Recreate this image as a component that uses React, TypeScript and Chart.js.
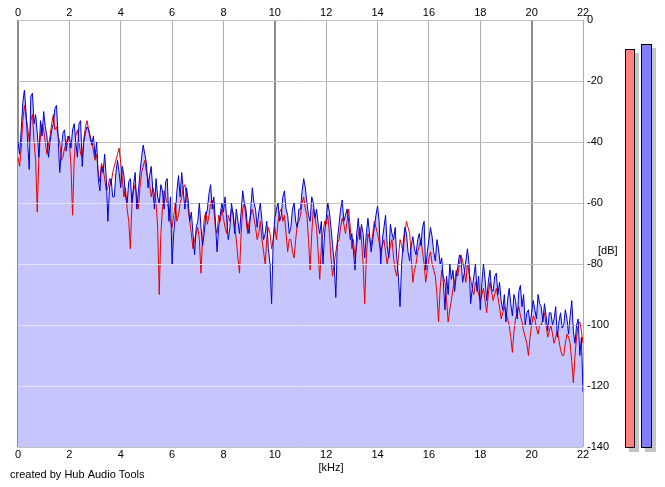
import { useEffect, useRef } from "react";
import { Chart, registerables } from "chart.js";

Chart.register(...registerables);

// ---- data ----
const FREQ_TICKS_KHZ = [0, 2, 4, 6, 8, 10, 12, 14, 16, 18, 20, 22];
const DB_TICKS = [0, -20, -40, -60, -80, -100, -120, -140];
const FREQ_STEP_KHZ = 0.0625;

// one row = 1 kHz (16 bins), left channel (blue)
const BLUE_DB = [
  -40, -44, -36, -27, -23, -30, -40, -49, -25, -24, -34, -31, -37, -45, -33, -38,
  -30, -35, -38, -45, -40, -36, -34, -29, -28, -38, -50, -43, -37, -36, -43, -39,
  -38, -42, -36, -34, -40, -45, -34, -33, -48, -40, -37, -35, -36, -39, -41, -38,
  -45, -40, -52, -56, -48, -50, -44, -52, -66, -55, -52, -58, -58, -50, -46, -50,
  -55, -48, -51, -58, -60, -53, -52, -60, -54, -50, -62, -56, -50, -45, -41, -44,
  -47, -55, -51, -48, -56, -62, -52, -58, -60, -54, -56, -62, -53, -52, -66, -58,
  -80, -70, -64, -56, -51, -58, -50, -56, -62, -55, -59, -66, -63, -70, -77, -68,
  -66, -60, -68, -74, -70, -64, -62, -57, -54, -62, -58, -66, -76, -68, -64, -60,
  -63, -58, -65, -72, -68, -60, -64, -70, -62, -66, -70, -63, -56, -60, -62, -68,
  -70, -62, -55, -60, -62, -68, -63, -60, -66, -72, -70, -66, -75, -80, -93, -72,
  -65, -62, -60, -66, -64, -58, -56, -62, -64, -70, -68, -62, -60, -66, -68, -62,
  -62, -56, -52, -55, -60, -64, -66, -58, -60, -65, -62, -67, -70, -66, -80, -70,
  -65, -60, -63, -68, -74, -80, -91, -72, -67, -62, -59, -66, -64, -62, -66, -72,
  -70, -76, -82, -70, -65, -72, -67, -70, -78, -70, -65, -70, -76, -72, -68, -64,
  -61, -66, -80, -72, -68, -64, -74, -78, -67, -70, -72, -68, -78, -84, -94, -80,
  -73, -68, -70, -76, -79, -74, -71, -75, -77, -72, -70, -74, -68, -66, -82, -76,
  -72, -68, -71, -76, -79, -72, -75, -80, -78, -86, -95, -84, -90, -80, -85, -82,
  -89, -84, -81, -77, -78, -86, -83, -79, -75, -80, -93, -88, -84, -80, -89, -84,
  -95, -86, -80, -85, -92, -86, -82, -88, -89, -84, -83, -90, -86, -92, -95, -90,
  -99, -92, -88, -93, -97, -90, -92, -98, -89, -87, -94, -90, -100, -96, -95, -100,
  -96, -92, -95, -98, -90, -93, -94, -99, -93, -97, -102, -96, -96, -100, -98, -94,
  -104, -99, -96, -101, -100, -95, -98, -103, -97, -92, -102, -106, -100, -98, -110, -104,
  -122,
];

// right channel (red)
const RED_DB = [
  -45, -48, -42, -33, -28, -32, -35, -40, -33, -31, -40, -46, -63, -45, -38, -34,
  -36, -40, -44, -41, -38, -34, -31, -36, -35, -38, -40, -46, -45, -42, -41, -38,
  -40, -48, -64, -46, -38, -36, -40, -44, -45, -39, -35, -33, -36, -38, -40, -43,
  -46, -44, -50, -53, -47, -49, -52, -56, -55, -52, -54, -50, -48, -46, -44, -42,
  -47, -52, -58, -55, -62, -66, -75, -60, -56, -54, -58, -62, -55, -50, -48, -46,
  -50, -52, -54, -58, -55, -57, -60, -68, -90, -70, -62, -56, -58, -60, -62, -66,
  -68, -64, -60, -66, -64, -60, -58, -55, -54, -58, -62, -66, -70, -75, -72, -70,
  -68, -72, -83, -72, -65, -63, -67, -64, -60, -59, -62, -68, -70, -64, -66, -62,
  -65, -68, -70, -64, -66, -62, -63, -68, -72, -78, -83, -70, -62, -60, -65, -70,
  -66, -64, -62, -65, -68, -72, -70, -66, -72, -76, -80, -72, -68, -70, -75, -72,
  -68, -72, -66, -63, -62, -66, -64, -70, -76, -72, -72, -76, -78, -72, -67, -66,
  -64, -60, -58, -62, -64, -72, -82, -70, -62, -65, -68, -76, -85, -74, -70, -66,
  -67, -64, -70, -78, -84, -80, -76, -73, -72, -68, -65, -67, -70, -66, -62, -68,
  -75, -72, -78, -74, -70, -68, -72, -80, -93, -78, -70, -72, -74, -70, -66, -68,
  -70, -73, -76, -74, -72, -76, -80, -77, -74, -72, -78, -82, -84, -78, -72, -74,
  -76, -70, -66, -68, -70, -78, -86, -82, -80, -76, -74, -72, -76, -80, -86, -82,
  -78, -76, -80, -82, -84, -90, -99, -88, -82, -84, -86, -92, -99, -95, -92, -88,
  -86, -82, -84, -80, -77, -79, -82, -86, -80, -83, -85, -88, -90, -86, -88, -90,
  -92, -90, -88, -92, -96, -90, -86, -89, -92, -90, -88, -91, -94, -98, -96, -94,
  -96, -98, -100, -104, -109, -102, -98, -96, -94, -97, -99, -102, -104, -106, -110, -104,
  -100, -97, -98, -101, -103, -100, -100, -98, -96, -100, -104, -102, -100, -103, -106, -104,
  -102, -105, -108, -110, -110, -106, -103, -104, -106, -112, -119, -110, -104, -100, -99, -102,
  -106,
];

const LEVEL_RED_DB = -9.5;
const LEVEL_BLUE_DB = -7.9;

const X_TITLE = "[kHz]";
const Y_TITLE = "[dB]";
const CREDIT = "created by Hub Audio Tools";

// ---- styles ----
const FONT_FAMILY = '"Liberation Sans", Arial, sans-serif';
const FILL_COLOR = "#c6c6fc";
const BLUE_COLOR = "#0000d0";
const RED_COLOR = "#e80000";

const toPoints = (arr: number[]) => arr.map((v, i) => ({ x: i * FREQ_STEP_KHZ, y: v }));

const overlayPlugin = {
  id: "overlay",
  afterDatasetsDraw(chart: any) {
    const { ctx, chartArea: a, scales } = chart;
    const pts = chart.getDatasetMeta(0).data;
    if (!pts.length) return;
    ctx.save();
    ctx.beginPath();
    ctx.moveTo(pts[0].x, a.bottom);
    for (const p of pts) ctx.lineTo(p.x, p.y);
    ctx.lineTo(pts[pts.length - 1].x, a.bottom);
    ctx.closePath();
    ctx.clip();
    ctx.strokeStyle = "#e2e2ff";
    ctx.lineWidth = 1;
    for (const v of DB_TICKS) {
      const y = Math.round(scales.y.getPixelForValue(v)) + 0.5;
      ctx.beginPath();
      ctx.moveTo(a.left, y);
      ctx.lineTo(a.right, y);
      ctx.stroke();
    }
    ctx.restore();
  },
  afterDraw(chart: any) {
    const { ctx, scales } = chart;
    const yBottom = scales.y.getPixelForValue(DB_TICKS[DB_TICKS.length - 1]);
    const drawBar = (x: number, w: number, level: number, color: string) => {
      const yTop = Math.round(scales.y.getPixelForValue(level));
      const h = yBottom - yTop;
      ctx.fillStyle = "#c4c4c4";
      ctx.fillRect(x + 4, yTop + 4, w + 1, h + 1);
      ctx.fillStyle = color;
      ctx.fillRect(x, yTop, w, h);
      ctx.strokeStyle = "#000";
      ctx.lineWidth = 1;
      ctx.strokeRect(x + 0.5, yTop + 0.5, w, h);
    };
    ctx.save();
    drawBar(625, 9, LEVEL_RED_DB, "#ff8080");
    drawBar(641, 10, LEVEL_BLUE_DB, "#8080ff");

    ctx.fillStyle = "#000";
    ctx.font = `11px ${FONT_FAMILY}`;
    ctx.textBaseline = "middle";
    ctx.textAlign = "center";
    ctx.fillText(X_TITLE, 331, 468);
    ctx.textAlign = "left";
    ctx.fillText(Y_TITLE, 598, 251);
    ctx.fillText(CREDIT, 10, 475);
    ctx.restore();
  },
};

const isMajor = (v: number) => v === 0 || v === 10 || v === 20;

export default function App() {
  const ref = useRef<HTMLCanvasElement>(null);

  useEffect(() => {
    if (!ref.current) return;
    const tickFont = { family: FONT_FAMILY, size: 11 };
    const chart = new Chart(ref.current, {
      type: "line",
      data: {
        datasets: [
          {
            label: "fill",
            data: toPoints(BLUE_DB),
            borderWidth: 0,
            borderColor: "rgba(0,0,0,0)",
            backgroundColor: FILL_COLOR,
            fill: "start",
            pointRadius: 0,
            tension: 0,
            order: 3,
          },
          {
            label: "red",
            data: toPoints(RED_DB),
            borderWidth: 1,
            borderColor: RED_COLOR,
            fill: false,
            pointRadius: 0,
            tension: 0,
            order: 2,
          },
          {
            label: "blue",
            data: toPoints(BLUE_DB),
            borderWidth: 1,
            borderColor: BLUE_COLOR,
            fill: false,
            pointRadius: 0,
            tension: 0,
            order: 1,
          },
        ],
      },
      options: {
        animation: false,
        responsive: false,
        devicePixelRatio: 1,
        layout: { padding: { left: 18, top: 0, right: 0, bottom: 0 } },
        plugins: {
          legend: { display: false },
          tooltip: { enabled: false },
        },
        scales: {
          x: {
            type: "linear",
            position: "bottom",
            min: 0,
            max: 22,
            z: 1,
            afterBuildTicks: (s: any) => {
              s.ticks = FREQ_TICKS_KHZ.map((v) => ({ value: v }));
            },
            afterFit: (s: any) => {
              s.height = 40;
            },
            border: { display: false },
            grid: {
              drawTicks: false,
              color: (c: any) => (isMajor(c.tick?.value) ? "rgba(0,0,0,0.45)" : "rgba(0,0,0,0.32)"),
              lineWidth: (c: any) => (isMajor(c.tick?.value) ? 2 : 1),
            },
            ticks: { color: "#000", font: tickFont, padding: 1, maxRotation: 0, autoSkip: false },
          },
          x2: {
            type: "linear",
            position: "top",
            min: 0,
            max: 22,
            afterBuildTicks: (s: any) => {
              s.ticks = FREQ_TICKS_KHZ.map((v) => ({ value: v }));
            },
            afterFit: (s: any) => {
              s.height = 20;
            },
            border: { display: false },
            grid: { display: false, drawTicks: false },
            ticks: { color: "#000", font: tickFont, padding: 0, maxRotation: 0, autoSkip: false },
          },
          y: {
            type: "linear",
            position: "right",
            min: -140,
            max: 0,
            afterBuildTicks: (s: any) => {
              s.ticks = DB_TICKS.map((v) => ({ value: v }));
            },
            afterFit: (s: any) => {
              s.width = 82;
            },
            border: { display: false },
            grid: { drawTicks: false, color: "#c0c0c0", lineWidth: 1 },
            ticks: { color: "#000", font: tickFont, padding: 4 },
          },
        },
      },
      plugins: [overlayPlugin],
    } as any);
    return () => chart.destroy();
  }, []);

  return (
    <div style={{ position: "absolute", left: 0, top: 0, width: 665, height: 487, background: "#fff" }}>
      <canvas ref={ref} width={665} height={487} />
    </div>
  );
}
